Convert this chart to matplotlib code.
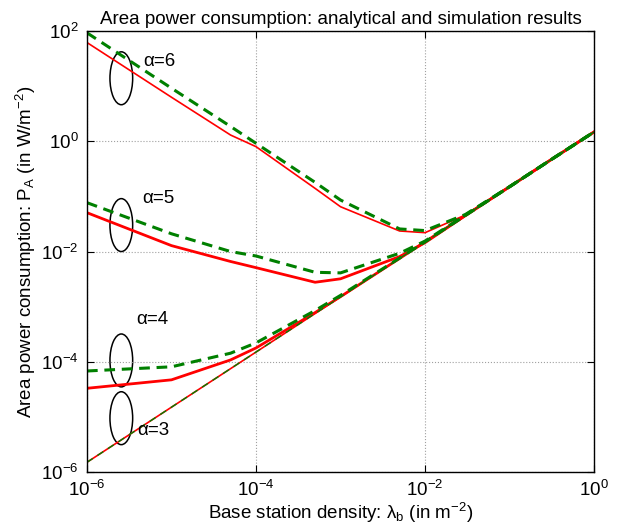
import matplotlib
matplotlib.use("Agg")
import matplotlib.pyplot as plt
from matplotlib.patches import Ellipse

plt.rcParams['font.family'] = ['Liberation Sans', 'DejaVu Sans']
plt.rcParams['mathtext.fontset'] = 'custom'
plt.rcParams['mathtext.rm'] = 'Liberation Sans'
plt.rcParams['mathtext.it'] = 'Liberation Sans:italic'
plt.rcParams['mathtext.sf'] = 'Liberation Sans'

# base station density samples
lam = [1e-6, 1e-5, 5e-5, 1e-4, 5e-4, 1e-3, 5e-3, 1e-2, 3e-2, 1e-1, 3e-1, 1.0]

# analytical (red) and simulation (green) area power consumption
ana_a6 = [62, 6.3, 1.3, 0.80, 0.14, 0.065, 0.0236, 0.022, 0.046, 0.15, 0.45, 1.48]
sim_a6 = [93, 9.2, 1.86, 0.92, 0.18, 0.086, 0.0257, 0.024, 0.047, 0.15, 0.45, 1.48]
ana_a5 = [0.0507, 0.0128, 0.0066, 0.0051, 0.00277, 0.0032, 0.0081, 0.0145, 0.045, 0.15, 0.45, 1.48]
sim_a5 = [0.077, 0.021, 0.0100, 0.0083, 0.0042, 0.0041, 0.0093, 0.0155, 0.046, 0.15, 0.45, 1.48]
ana_a4 = [3.3e-5, 4.7e-5, 1.08e-4, 1.78e-4, 7.8e-4, 1.52e-3, 7.5e-3, 0.015, 0.045, 0.15, 0.45, 1.48]
sim_a4 = [6.8e-5, 8.1e-5, 1.43e-4, 2.2e-4, 8.5e-4, 1.6e-3, 7.6e-3, 0.015, 0.045, 0.15, 0.45, 1.48]
ana_a3 = [1.5e-6, 1.5e-5, 7.5e-5, 1.5e-4, 7.5e-4, 1.5e-3, 7.5e-3, 0.015, 0.045, 0.15, 0.45, 1.48]
sim_a3 = [1.5e-6, 1.5e-5, 7.5e-5, 1.5e-4, 7.5e-4, 1.5e-3, 7.5e-3, 0.015, 0.045, 0.15, 0.45, 1.48]

alpha_labels = ["α=6", "α=5", "α=4", "α=3"]

fig = plt.figure(figsize=(6.28, 5.27), dpi=100)
ax = fig.add_axes([0.1385, 0.1044, 0.8075, 0.8366])

red = "#ff0000"
green = "#008000"
dash = (0, (3.5, 2.2))

ax.plot(lam, ana_a6, color=red, lw=1.2)
ax.plot(lam, ana_a5, color=red, lw=2.0)
ax.plot(lam, ana_a4, color=red, lw=2.0)
ax.plot(lam, ana_a3, color=red, lw=1.2)
ax.plot(lam, sim_a6, color=green, lw=2.2, ls=dash)
ax.plot(lam, sim_a5, color=green, lw=2.2, ls=dash)
ax.plot(lam, sim_a4, color=green, lw=2.2, ls=dash)
ax.plot(lam, sim_a3, color=green, lw=1.0, ls=(0, (5, 4)))

ax.set_xscale("log")
ax.set_yscale("log")
ax.set_xlim(1e-6, 1)
ax.set_ylim(1e-6, 1e2)
ax.set_xticks([1e-6, 1e-4, 1e-2, 1])
ax.set_yticks([1e-6, 1e-4, 1e-2, 1, 1e2])
ax.minorticks_off()
ax.tick_params(direction="in", top=True, right=True, labelsize=13.5, length=5, pad=6)
ax.grid(True, ls=":", color="#a0a0a0", lw=0.8)
for s in ax.spines.values():
    s.set_linewidth(1.0)

# ellipses marking each pair of curves
ell_y = [0.893, 0.560, 0.253, 0.122]
txt_pos = [(0.110, 0.932), (0.109, 0.621), (0.097, 0.345), (0.100, 0.093)]
for y, lab, (tx, ty) in zip(ell_y, alpha_labels, txt_pos):
    ax.add_patch(Ellipse((0.0677, y), 0.0448, 0.12, transform=ax.transAxes,
                         fill=False, ec="black", lw=1.1))
    ax.text(tx, ty, lab, transform=ax.transAxes, fontsize=13.5, va="center", ha="left")

ax.set_title("Area power consumption: analytical and simulation results", fontsize=13.5, pad=5)
ax.set_xlabel(r"Base station density: λ$_\mathregular{b}$ (in m$^{-2}$)", fontsize=13.5, labelpad=0)
ax.set_ylabel(r"Area power consumption: P$_\mathregular{A}$ (in W/m$^{-2}$)", fontsize=13.5, labelpad=2)

fig.savefig("out.png", dpi=100)
